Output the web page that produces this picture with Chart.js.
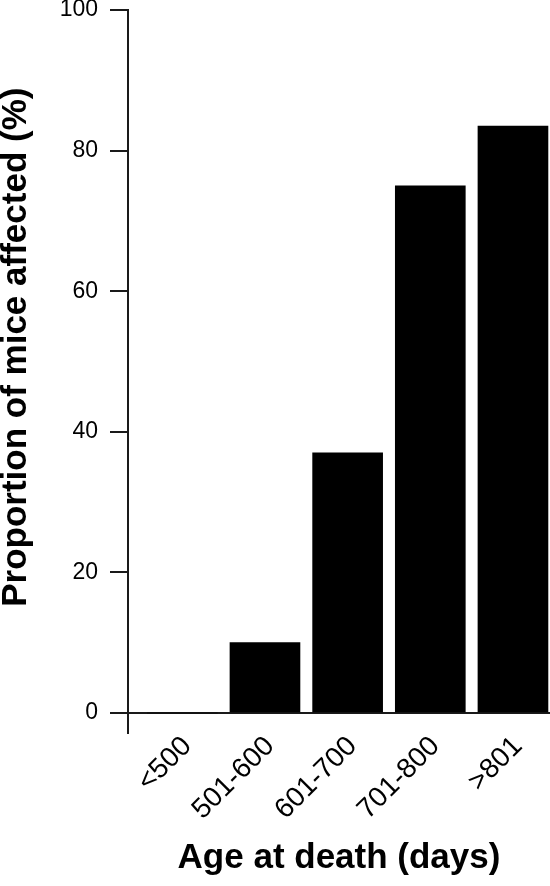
<!DOCTYPE html>
<html>
<head>
<meta charset="utf-8">
<script src="https://cdn.jsdelivr.net/npm/chart.js@4"></script>
<style>
  html, body { margin: 0; padding: 0; background: #fff; }
  #wrap { width: 550px; height: 886px; position: relative; }
</style>
</head>
<body>
<div id="wrap"><canvas id="chart"></canvas></div>
<script>
const ageGroups = ["<500", "501-600", "601-700", "701-800", ">801"];
const proportionAffected = [0, 10, 37, 75, 83.5];
const yTicks = [0, 20, 40, 60, 80, 100];

const FONT = "'Liberation Sans', Arial, Helvetica, sans-serif";
const INK = "#1a1a1a";

const ctx = document.getElementById("chart").getContext("2d");

new Chart(ctx, {
  type: "bar",
  data: {
    datasets: [{
      data: ageGroups.map((g, i) => ({ x: i, y: proportionAffected[i] })),
      backgroundColor: "#000",
      borderWidth: 0,
      barThickness: 70
    }]
  },
  options: {
    responsive: true,
    maintainAspectRatio: false,
    animation: false,
    layout: { padding: { top: 10, left: 0, right: 0, bottom: 0 } },
    plugins: {
      legend: { display: false },
      tooltip: { enabled: false }
    },
    scales: {
      x: {
        type: "linear",
        offset: false,
        min: -0.657,
        max: 4.448,
        grid: { display: false },
        border: { display: false },
        afterBuildTicks: s => { s.ticks = ageGroups.map((g, i) => ({ value: i })); },
        afterFit: s => { s.height = 153; s.paddingLeft = 0; s.paddingRight = 0; },
        ticks: {
          autoSkip: false,
          minRotation: 45,
          maxRotation: 45,
          padding: -11,
          labelOffset: 5,
          color: "#000",
          font: { family: FONT, size: 28 },
          callback: v => ageGroups[v]
        },
        title: {
          display: true,
          text: "Age at death (days)",
          color: "#000",
          font: { family: FONT, size: 35, weight: "bold" },
          padding: { top: 0, bottom: 7 }
        }
      },
      y: {
        min: -2.849,
        max: 100,
        afterBuildTicks: s => { s.ticks = yTicks.map(v => ({ value: v })); },
        afterFit: s => { s.width = 128; s.paddingTop = 0; s.paddingBottom = 0; },
        border: { display: true, color: INK, width: 2 },
        grid: {
          color: c => (c.tick && c.tick.value === 0 ? INK : "transparent"),
          tickColor: INK,
          lineWidth: 2,
          tickLength: 18
        },
        ticks: {
          padding: 12,
          color: "#000",
          font: { family: FONT, size: 23 }
        },
        title: {
          display: true,
          // leading spaces lift the centred title to where the original sits
          text: "     Proportion of mice affected (%)",
          color: "#000",
          font: { family: FONT, size: 35, weight: "bold", lineHeight: 0.95 },
          padding: 0
        }
      }
    }
  }
});
</script>
</body>
</html>
